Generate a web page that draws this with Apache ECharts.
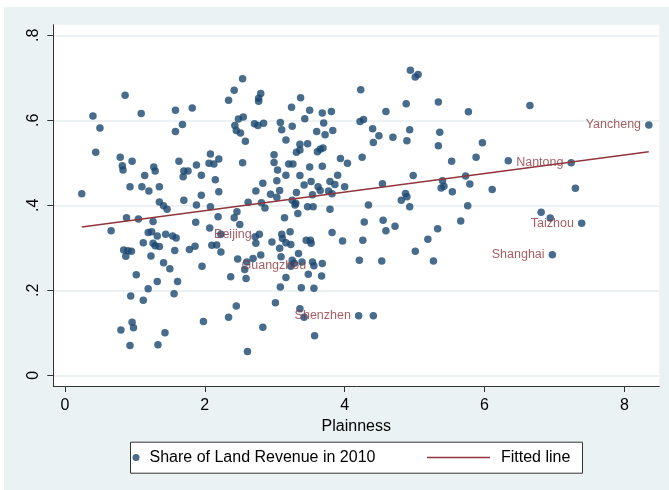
<!DOCTYPE html>
<html>
<head>
<meta charset="utf-8">
<script src="https://cdn.jsdelivr.net/npm/echarts@6/dist/echarts.min.js"></script>
<style>
html,body{margin:0;padding:0;background:#ffffff;}
#chart{position:absolute;left:4px;top:7px;width:665px;height:483px;}
</style>
</head>
<body>
<div id="chart"></div>
<script>
// ---- Data ----
const xTicks = [0, 2, 4, 6, 8];
const xTickLabels = ['0', '2', '4', '6', '8'];
const yTicks = [0, 0.2, 0.4, 0.6, 0.8];
const yTickLabels = ['0', '.2', '.4', '.6', '.8'];

const seriesName = 'Share of Land Revenue in 2010';
const fitName = 'Fitted line';
const xTitle = 'Plainness';

const plainness = [
  0.86,0.40,1.09,1.58,1.82,0.50,1.68,1.58,0.44,0.79,
  0.96,0.82,0.83,1.27,1.29,1.63,2.08,2.20,2.06,2.13,
  1.88,1.70,1.76,1.69,1.95,1.14,2.15,0.93,1.10,1.35,
  1.20,0.24,1.95,2.20,1.35,1.41,1.46,1.70,1.88,2.08,
  0.88,1.05,1.26,2.19,1.87,2.07,0.66,1.19,1.24,1.32,
  1.44,1.54,1.59,1.12,1.26,1.29,1.35,0.84,0.90,0.95,
  0.87,1.23,1.57,1.78,1.86,2.10,2.17,2.23,1.41,1.50,
  1.96,1.02,1.32,1.61,1.19,0.94,1.12,1.56,0.96,0.98,
  0.80,1.98,1.43,0.93,1.33,2.23,2.86,3.29,3.47,3.55,
  3.79,2.46,2.42,2.50,3.14,3.33,4.28,2.72,2.73,2.96,
  3.10,3.22,3.11,3.16,3.23,3.07,3.34,3.45,3.51,3.52,
  3.82,3.97,4.26,2.47,2.60,2.57,2.69,2.80,3.09,3.25,
  3.28,3.23,3.39,3.54,3.68,2.37,2.59,3.16,3.48,3.67,
  4.21,3.08,3.38,3.56,2.45,3.01,2.34,3.36,3.42,2.83,
  3.57,2.61,4.41,2.54,2.42,2.34,2.80,2.77,2.77,3.37,
  3.24,3.50,3.68,3.81,4.23,3.43,2.48,2.55,2.43,2.45,
  2.51,2.58,2.71,2.76,2.84,3.08,3.10,3.25,3.16,3.70,
  3.60,3.72,3.83,4.22,4.27,3.36,3.47,3.31,3.36,3.61,
  3.65,3.69,2.99,2.54,2.99,3.20,3.26,3.04,3.50,3.68,
  3.94,4.04,4.25,3.16,3.36,3.03,3.52,3.42,3.79,3.86,
  3.90,2.83,2.73,3.07,2.94,3.03,3.31,3.62,3.65,3.77,
  3.82,4.00,3.54,2.62,2.81,3.25,3.30,4.94,5.05,5.01,
  4.88,5.34,4.59,5.77,4.40,4.49,4.41,4.69,4.93,4.89,
  5.36,5.34,5.53,5.97,5.88,6.34,4.98,4.54,5.40,5.42,
  5.38,5.73,5.79,6.11,5.54,4.87,4.89,4.81,4.34,4.93,
  5.76,4.55,4.59,4.72,5.66,5.33,5.19,5.01,4.53,5.27,
  6.65,7.30,6.81,6.94
];

const landShare = [
  0.659,0.610,0.616,0.624,0.629,0.582,0.590,0.574,0.525,0.513,
  0.504,0.493,0.483,0.490,0.481,0.504,0.521,0.509,0.499,0.497,
  0.495,0.481,0.481,0.467,0.471,0.470,0.460,0.444,0.444,0.444,
  0.434,0.427,0.424,0.432,0.408,0.399,0.391,0.412,0.401,0.397,
  0.371,0.368,0.362,0.373,0.360,0.347,0.340,0.336,0.338,0.328,
  0.332,0.328,0.323,0.312,0.311,0.305,0.303,0.295,0.293,0.292,
  0.280,0.281,0.294,0.296,0.304,0.306,0.307,0.290,0.265,0.251,
  0.257,0.237,0.221,0.221,0.204,0.187,0.177,0.192,0.125,0.112,
  0.107,0.127,0.100,0.070,0.072,0.332,0.394,0.401,0.397,0.397,
  0.391,0.385,0.371,0.355,0.371,0.381,0.361,0.326,0.311,0.314,
  0.332,0.338,0.322,0.312,0.308,0.299,0.287,0.318,0.318,0.311,
  0.336,0.316,0.318,0.274,0.267,0.249,0.275,0.283,0.279,0.271,
  0.264,0.257,0.267,0.267,0.263,0.232,0.228,0.230,0.238,0.234,
  0.271,0.208,0.206,0.205,0.163,0.171,0.137,0.157,0.137,0.113,
  0.093,0.056,0.140,0.698,0.671,0.647,0.663,0.652,0.645,0.653,
  0.631,0.624,0.617,0.621,0.672,0.604,0.603,0.608,0.588,0.576,
  0.570,0.551,0.592,0.588,0.593,0.595,0.578,0.586,0.554,0.594,
  0.574,0.566,0.576,0.597,0.602,0.544,0.545,0.525,0.530,0.526,
  0.532,0.535,0.519,0.500,0.501,0.497,0.497,0.483,0.490,0.492,
  0.510,0.499,0.513,0.471,0.470,0.458,0.456,0.448,0.456,0.449,
  0.471,0.452,0.434,0.435,0.426,0.419,0.430,0.444,0.435,0.434,
  0.427,0.444,0.425,0.407,0.406,0.412,0.405,0.718,0.708,0.702,
  0.639,0.643,0.621,0.620,0.580,0.564,0.548,0.560,0.578,0.552,
  0.572,0.540,0.504,0.547,0.513,0.505,0.470,0.451,0.458,0.445,
  0.441,0.469,0.450,0.437,0.432,0.428,0.420,0.412,0.401,0.397,
  0.399,0.365,0.340,0.351,0.363,0.345,0.320,0.292,0.269,0.269,
  0.635,0.440,0.384,0.370
];

// labelled cities
const cityNames = ['Beijing', 'Guangzhou', 'Shenzhen', 'Shanghai', 'Taizhou', 'Nantong', 'Yancheng'];
const cityPlainness = [2.78, 3.56, 4.20, 6.97, 7.39, 7.24, 8.35];
const cityShare = [0.332, 0.258, 0.140, 0.284, 0.358, 0.500, 0.589];

// fitted line end points
const fitX = [0.24, 8.35];
const fitY = [0.349, 0.526];

// ---- Chart ----
const FONT = '"Liberation Sans", Arial, Helvetica, sans-serif';
const NAVY = '#1a476f';
const MAROON = '#90353b';

const scatterData = plainness.map((x, i) => [x, landShare[i]]);
const cityData = cityNames.map((n, i) => ({ name: n, value: [cityPlainness[i], cityShare[i]] }));
const fitData = fitX.map((x, i) => [x, fitY[i]]);

function tickLabel(ticks, labels) {
  return function (v) {
    const k = ticks.findIndex(t => Math.abs(t - v) < 1e-9);
    return k >= 0 ? labels[k] : '';
  };
}

const chart = echarts.init(document.getElementById('chart'), null, { renderer: 'canvas' });
chart.setOption({
  animation: false,
  backgroundColor: '#eaf2f3',
  textStyle: { fontFamily: FONT },
  grid: {
    left: 49.3, right: 9.7, top: 17.7, bottom: 104,
    show: true, backgroundColor: '#ffffff', borderWidth: 0
  },
  xAxis: {
    type: 'value', min: -0.167, max: 8.5,
    name: xTitle, nameLocation: 'middle', nameGap: 29,
    nameTextStyle: { fontFamily: FONT, fontSize: 16, color: '#000' },
    axisLine: { show: true, onZero: false, lineStyle: { color: '#333', width: 1 } },
    axisTick: { show: true, length: 6, customValues: xTicks, lineStyle: { color: '#333', width: 1 } },
    axisLabel: { customValues: xTicks, margin: 12, fontSize: 16, color: '#000', fontFamily: FONT,
                 formatter: tickLabel(xTicks, xTickLabels) },
    splitLine: { show: false }
  },
  yAxis: {
    type: 'value', min: -0.025, max: 0.825,
    axisLine: { show: true, onZero: false, lineStyle: { color: '#333', width: 1 } },
    axisTick: { show: true, length: 6, customValues: yTicks, lineStyle: { color: '#333', width: 1 } },
    axisLabel: { customValues: yTicks, rotate: 90, margin: 12, fontSize: 16, color: '#000', fontFamily: FONT,
                 formatter: tickLabel(yTicks, yTickLabels) },
    splitLine: { show: true, lineStyle: { color: '#e6eef0', width: 1.5 } }
  },
  legend: [
    {
      data: [seriesName], left: 128.5, top: 442.5, padding: 0,
      itemWidth: 17, itemHeight: 7, icon: 'circle',
      textStyle: { fontSize: 16, color: '#000', fontFamily: FONT }
    },
    {
      data: [{ name: fitName, icon: 'rect' }], left: 423, top: 442.5, padding: 0,
      itemWidth: 63, itemHeight: 1.5,
      itemStyle: { color: MAROON, borderWidth: 0 },
      textStyle: { fontSize: 16, color: '#000', fontFamily: FONT, padding: [0, 0, 0, 6] }
    }
  ],
  graphic: {
    elements: [{
      type: 'rect', z: 0, silent: true,
      shape: { x: 126.5, y: 435.2, width: 452, height: 31 },
      style: { fill: '#ffffff', stroke: '#333', lineWidth: 1 }
    }]
  },
  series: [
    {
      name: seriesName, type: 'scatter', data: scatterData,
      symbol: 'circle', symbolSize: 7.5, itemStyle: { color: NAVY }, z: 2
    },
    {
      name: seriesName, type: 'scatter', data: cityData,
      symbol: 'circle', symbolSize: 7.5, itemStyle: { color: NAVY }, z: 2,
      label: { show: true, position: 'left', distance: 4, formatter: '{b}',
               color: MAROON, fontSize: 12.5, fontFamily: FONT }
    },
    {
      name: fitName, type: 'line', data: fitData, symbol: 'none', showSymbol: false,
      lineStyle: { color: MAROON, width: 1.5 }, itemStyle: { color: MAROON }, z: 3
    }
  ]
});
</script>
</body>
</html>
